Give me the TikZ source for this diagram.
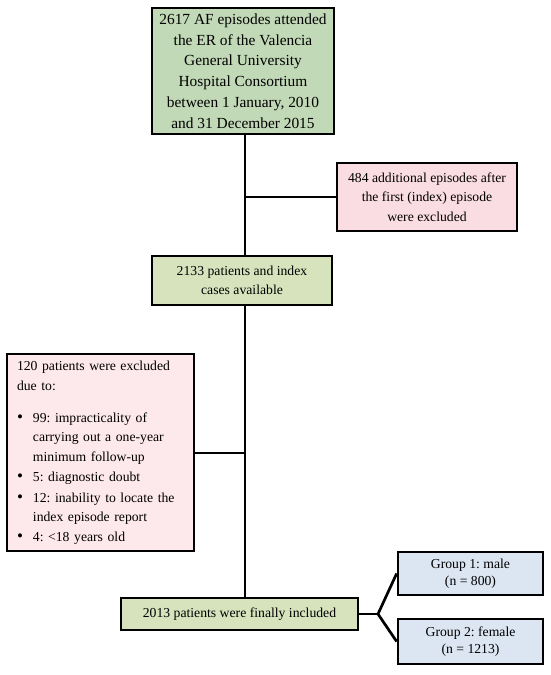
\documentclass[tikz,border=0pt]{standalone}
\usepackage{fontspec}
\setmainfont{Liberation Serif}
\frenchspacing
\definecolor{topgreen}{RGB}{194,217,183}
\definecolor{olivegreen}{RGB}{214,227,188}
\definecolor{pinkA}{RGB}{250,221,226}
\definecolor{pinkB}{RGB}{253,232,235}
\definecolor{blueA}{RGB}{220,230,242}
\newcommand{\bigbul}{{\fontsize{17}{17}\selectfont\textbullet}}
\tikzset{
  boxbase/.style={draw=black, line width=2.7pt, inner sep=0pt, align=center},
  conn/.style={draw=black, line width=2.7pt},
  f14/.style={font=\fontsize{13.7}{19.5}\selectfont},
}
\begin{document}
\begin{tikzpicture}[x=1pt,y=-1pt]
\useasboundingbox (0,0) rectangle (550,675);
\node[boxbase, fill=topgreen, minimum width=182, minimum height=126,
      font=\fontsize{15.4}{20.7}\selectfont] (top) at (243,71)
  {2617 AF episodes attended\\the ER of the Valencia\\General University\\Hospital Consortium\\between 1 January, 2010\\and 31 December 2015};
\node[boxbase, fill=pinkA, minimum width=180, minimum height=68, f14] (excl1) at (427,197)
  {484 additional episodes after\\the first (index) episode\\were excluded};
\node[boxbase, fill=olivegreen, minimum width=180, minimum height=49, f14] (avail) at (242,280.5)
  {2133 patients and index\\cases available};
\node[boxbase, fill=pinkB, minimum width=187, minimum height=197,
      font=\fontsize{13.7}{19.3}\selectfont, text width=167, align=left] (excl2) at (100.5,452.5)
  {\begin{tabular}{@{}l@{\hspace{10pt}}l@{}}
   \multicolumn{2}{@{}l@{}}{120 patients were excluded}\\
   \multicolumn{2}{@{}l@{}}{due to:}\\[13pt]
   \bigbul & 99: impracticality of\\
    & carrying out a one-year\\
    & minimum follow-up\\[1pt]
   \bigbul & 5: diagnostic doubt\\[1.5pt]
   \bigbul & 12: inability to locate the\\
    & index episode report\\[1pt]
   \bigbul & 4: <18 years old
   \end{tabular}};
\node[boxbase, fill=olivegreen, minimum width=237, minimum height=32, f14] (final) at (239.5,614)
  {2013 patients were finally included};
\node[boxbase, fill=blueA, minimum width=145, minimum height=43,
      font=\fontsize{13.7}{16.5}\selectfont] (g1) at (470.5,573.5)
  {Group 1: male\\(n = 800)};
\node[boxbase, fill=blueA, minimum width=145, minimum height=45,
      font=\fontsize{13.7}{16.5}\selectfont] (g2) at (470.5,641.5)
  {Group 2: female\\(n = 1213)};
\coordinate (vx) at (245,0);
\coordinate (br1) at (245,197);
\coordinate (br2) at (245,453);
\coordinate (fork) at (378,614);
\draw[conn] (top.south -| vx) -- (avail.north -| vx);
\draw[conn] (br1) -- (excl1.west);
\draw[conn] (avail.south -| vx) -- (final.north -| vx);
\draw[conn] (br2) -- (br2 -| excl2.east);
\draw[conn] (final.east) -- (fork);
\draw[conn, line join=round] (g1.west) -- (fork) -- (g2.west);
\end{tikzpicture}
\end{document}
